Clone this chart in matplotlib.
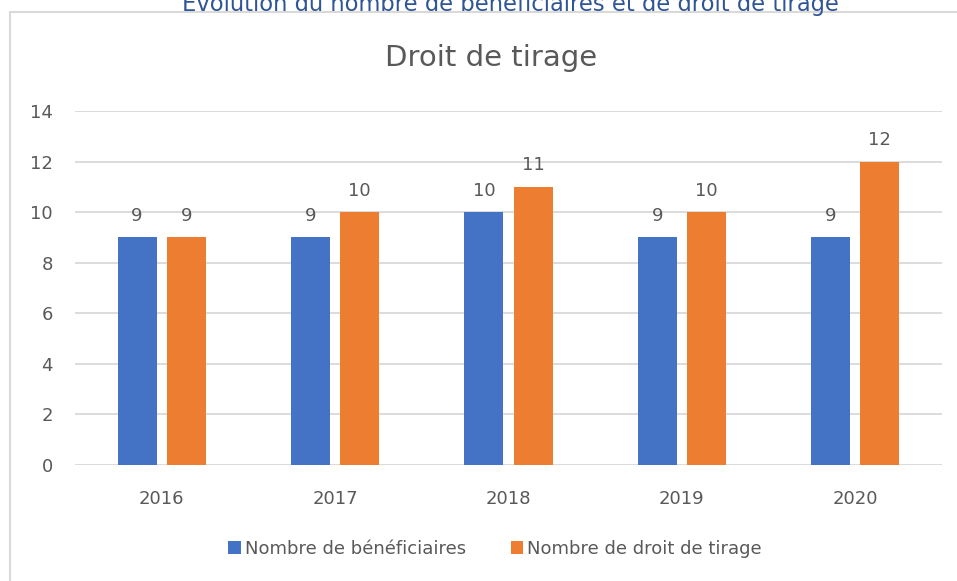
import matplotlib.pyplot as plt
import numpy as np
from matplotlib.patches import Rectangle

years = ['2016', '2017', '2018', '2019', '2020']
beneficiaires = [9, 9, 10, 9, 9]
droits = [9, 10, 11, 10, 12]

blue = '#4472C4'
orange = '#ED7D31'
grey_text = '#595959'
grid_col = '#D9D9D9'

plt.rcParams['font.family'] = ['DejaVu Sans']

fig = plt.figure(figsize=(9.57, 5.81), dpi=100)

# chart frame (cut off on the right and bottom like the screenshot)
fig.patches.append(Rectangle((10 / 957, -0.5), 2.0, 1.5 - 12 / 581,
                             transform=fig.transFigure, fill=False,
                             edgecolor=grid_col, lw=1.5))

# cut-off heading above the chart
fig.text(510 / 957, 1 - 3 / 581, 'Évolution du nombre de bénéficiaires et de droit de tirage',
         ha='center', va='center', fontsize=16.3, color='#2F5597')

ax = fig.add_axes([75 / 957, 1 - 465 / 581, (942 - 75) / 957, (465 - 111) / 581])

x = np.arange(len(years))
w = 0.225
off = 0.142
b1 = ax.bar(x - off, beneficiaires, w, color=blue, label='Nombre de bénéficiaires', zorder=3)
b2 = ax.bar(x + off, droits, w, color=orange, label='Nombre de droit de tirage', zorder=3)

for bars, vals in ((b1, beneficiaires), (b2, droits)):
    for r, v in zip(bars, vals):
        ax.annotate(str(v), (r.get_x() + r.get_width() / 2, v), xytext=(0, 9),
                    textcoords='offset points', ha='center', va='bottom',
                    fontsize=13, color=grey_text)

ax.set_xlim(-0.5, len(years) - 0.5)
ax.set_ylim(0, 14)
ax.set_yticks(range(0, 15, 2))
ax.set_xticks(x)
ax.set_xticklabels(years)
ax.tick_params(axis='both', length=0, labelsize=13, colors=grey_text)
ax.tick_params(axis='x', pad=18)
ax.tick_params(axis='y', pad=16)
ax.grid(axis='y', color=grid_col, lw=1.3, zorder=0)
for s in ax.spines.values():
    s.set_visible(False)

fig.text(491 / 957, 1 - 58 / 581, 'Droit de tirage', ha='center', va='center',
         fontsize=21, color=grey_text)

fig.legend(handles=[b1, b2], loc='center', bbox_to_anchor=(495 / 957, 1 - 549 / 581),
           ncol=2, frameon=False, fontsize=13, handlelength=0.7, handleheight=0.7,
           handletextpad=0.2, columnspacing=2.5, labelcolor=grey_text)

fig.savefig('out.png', dpi=100)
